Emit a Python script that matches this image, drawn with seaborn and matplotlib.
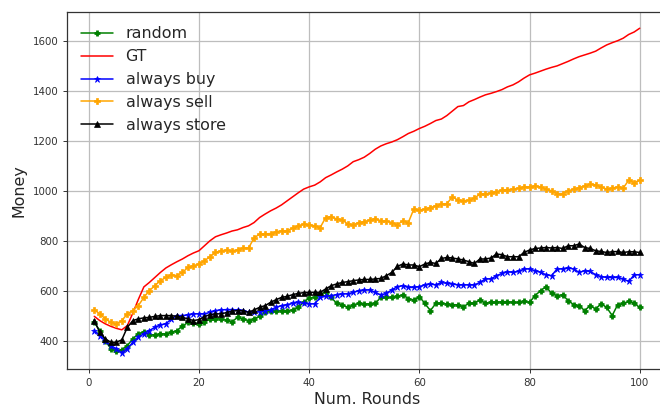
import matplotlib
matplotlib.use("Agg")
import matplotlib.pyplot as plt
import seaborn as sns
import pandas as pd

rounds = list(range(1, 101))

random_strategy = [
    473, 440, 400, 367, 360, 363, 380, 407, 427, 436,
    423, 423, 427, 427, 433, 440, 457, 473, 469, 467,
    476, 487, 487, 487, 482, 475, 493, 487, 480, 487,
    497, 513, 520, 517, 520, 520, 523, 533, 553, 571,
    573, 587, 593, 573, 549, 544, 533, 543, 549, 546,
    548, 549, 573, 573, 573, 577, 584, 567, 563, 576,
    549, 520, 549, 549, 547, 544, 543, 536, 549, 551,
    563, 549, 553, 553, 556, 556, 553, 553, 557, 553,
    580, 600, 616, 589, 580, 584, 560, 544, 540, 520,
    540, 527, 547, 533, 500, 544, 549, 557, 549, 533,
]

ground_truth = [
    497, 480, 467, 457, 449, 443, 460, 510, 565, 615,
    633, 653, 673, 691, 704, 716, 727, 740, 751, 760,
    780, 800, 816, 824, 831, 839, 844, 853, 860, 873,
    893, 907, 920, 931, 944, 960, 976, 992, 1007, 1016,
    1023, 1036, 1053, 1064, 1076, 1087, 1100, 1117, 1125, 1135,
    1150, 1167, 1180, 1189, 1196, 1205, 1217, 1230, 1239, 1250,
    1259, 1270, 1282, 1288, 1302, 1320, 1338, 1342, 1357, 1366,
    1376, 1385, 1391, 1398, 1406, 1417, 1425, 1437, 1452, 1465,
    1472, 1480, 1488, 1495, 1501, 1510, 1519, 1529, 1538, 1545,
    1552, 1560, 1573, 1585, 1594, 1602, 1612, 1627, 1637, 1652,
]

always_buy = [
    440, 420, 400, 380, 367, 351, 367, 393, 413, 427,
    440, 453, 463, 467, 487, 500, 500, 503, 507, 507,
    507, 513, 520, 523, 524, 524, 523, 520, 513, 513,
    516, 520, 523, 533, 540, 544, 549, 553, 549, 547,
    547, 573, 577, 580, 584, 587, 587, 593, 600, 602,
    603, 593, 583, 589, 603, 616, 620, 613, 613, 616,
    623, 627, 623, 633, 629, 627, 623, 623, 623, 623,
    633, 647, 647, 660, 669, 676, 673, 677, 687, 687,
    680, 673, 664, 660, 687, 687, 691, 687, 673, 680,
    677, 664, 656, 653, 653, 653, 647, 637, 663, 664,
]

always_sell = [
    523, 507, 487, 473, 467, 480, 507, 520, 540, 573,
    600, 620, 640, 653, 664, 660, 673, 693, 700, 707,
    720, 736, 753, 760, 763, 760, 764, 771, 771, 811,
    827, 827, 829, 836, 840, 840, 851, 860, 867, 864,
    860, 853, 893, 897, 887, 884, 867, 864, 873, 877,
    883, 889, 880, 880, 873, 864, 880, 873, 927, 923,
    927, 933, 940, 947, 949, 976, 963, 960, 963, 971,
    987, 987, 993, 997, 1003, 1005, 1007, 1011, 1016, 1016,
    1020, 1016, 1007, 1000, 989, 989, 1000, 1007, 1013, 1020,
    1027, 1024, 1016, 1007, 1011, 1016, 1011, 1043, 1033, 1043,
]

always_store = [
    480, 433, 407, 393, 393, 403, 453, 480, 487, 491,
    493, 497, 500, 500, 500, 497, 493, 487, 480, 484,
    496, 504, 507, 507, 512, 518, 520, 520, 513, 523,
    533, 540, 553, 564, 573, 577, 584, 589, 592, 593,
    593, 593, 607, 620, 627, 633, 636, 640, 643, 645,
    645, 647, 649, 660, 673, 697, 707, 703, 703, 696,
    707, 713, 709, 729, 733, 731, 727, 723, 716, 709,
    727, 727, 731, 747, 744, 736, 736, 736, 753, 763,
    769, 771, 773, 771, 773, 769, 780, 780, 787, 773,
    769, 760, 757, 753, 756, 757, 753, 756, 756, 753,
]

series_labels = ["random", "GT", "always buy", "always sell", "always store"]

sns.set_style("ticks")
plt.rcParams.update({
    "font.family": ["DejaVu Sans"],
    "axes.edgecolor": "#333333",
    "axes.linewidth": 0.9,
    "xtick.major.size": 2.8,
    "ytick.major.size": 2.8,
    "xtick.major.width": 0.7,
    "ytick.major.width": 0.7,
    "xtick.color": "#333333",
    "ytick.color": "#333333",
})

fig = plt.figure(figsize=(6.6, 4.07), dpi=100)
ax = fig.add_axes([67 / 660, 1 - 369 / 407, 600 / 660, 357 / 407])

styles = [
    (random_strategy, "green", "+", dict(markersize=5, markeredgewidth=2.0)),
    (ground_truth, "red", None, {}),
    (always_buy, "blue", "*", dict(markersize=5, markeredgewidth=0.5)),
    (always_sell, "orange", "P", dict(markersize=5, markeredgewidth=0.5)),
    (always_store, "black", "^", dict(markersize=5, markeredgewidth=0.5)),
]

for (values, color, marker, extra), label in zip(styles, series_labels):
    df = pd.DataFrame({"Num. Rounds": rounds, "Money": values})
    kw = dict(extra)
    if marker is not None:
        kw["marker"] = marker
        kw["markeredgecolor"] = color
    sns.lineplot(data=df, x="Num. Rounds", y="Money", ax=ax, color=color,
                 linewidth=1.1, label=label, **kw)

ax.grid(True, color="#bdbdbd", linewidth=0.9)
ax.set_xticks([0, 20, 40, 60, 80, 100])
ax.set_yticks([400, 600, 800, 1000, 1200, 1400, 1600])
ax.tick_params(labelsize=7.4)
ax.set_xlabel("Num. Rounds", fontsize=11.4, labelpad=3)
ax.set_ylabel("Money", fontsize=11.4, labelpad=4)

ax.legend(loc="upper left", frameon=False, fontsize=11.4,
          borderaxespad=0.5, handlelength=2.0, handletextpad=0.8,
          labelspacing=0.5)

fig.savefig("out.png", dpi=100)
